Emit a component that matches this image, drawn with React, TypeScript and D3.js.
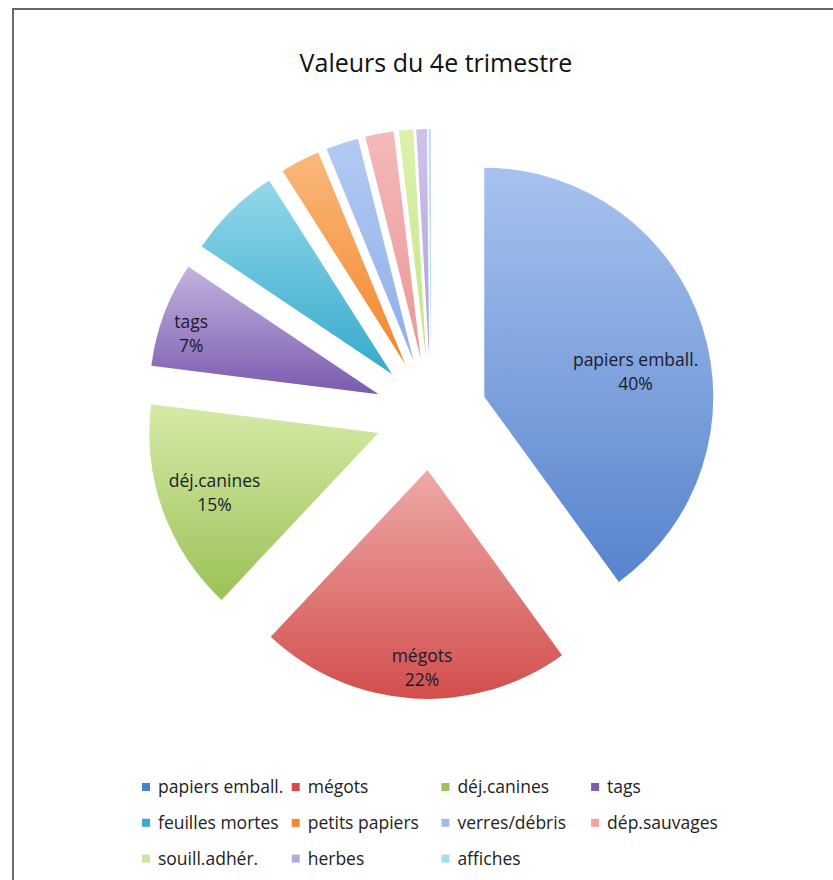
import React from "react";
import * as d3 from "d3";

const title = "Valeurs du 4e trimestre";
const categories = [
  "papiers emball.",
  "mégots",
  "déj.canines",
  "tags",
  "feuilles mortes",
  "petits papiers",
  "verres/débris",
  "dép.sauvages",
  "souill.adhér.",
  "herbes",
  "affiches",
];
const values = [40, 22, 15, 7.4, 6.6, 2.8, 2.3, 2.0, 1.0, 0.75, 0.15];
const labelled = [true, true, true, true, false, false, false, false, false, false, false];

// styles
const topColors = ["#a7c2ef", "#eeaaa8", "#d6eaa8", "#c3b2de", "#93d8ea", "#fab87c", "#b3caf2", "#f5b8b8", "#dcf1ac", "#cfc3ec", "#b2e4f1"];
const bottomColors = ["#5784cd", "#d24e4c", "#9bc257", "#7a5aae", "#35aacb", "#f1872b", "#8eaeea", "#ea9797", "#c3e487", "#ae9edd", "#8fd6ea"];
const legendColors = ["#4c7fd0", "#d84a4b", "#9dc152", "#7c5dac", "#3ca9cc", "#f38a2f", "#a3b9ec", "#eea2a4", "#c9e7a1", "#b8a8dc", "#a5dcee"];
// label placement (fraction of radius from slice apex, extra angle in degrees)
const labelFrac = [0.67, 0.86, 0.76, 0.86, 0.7, 0.7, 0.7, 0.7, 0.7, 0.7, 0.7];
const labelAngleShift = [8.5, -2, 0, -2.5, 0, 0, 0, 0, 0, 0, 0];

const W = 833;
const H = 880;
const cx = 431;
const cy = 414;
const R = 229;
const explode = 56;
const FONT = "'Open Sans', Lato, sans-serif";
const FS = 17.5;

export default function App() {
  const data = categories.map((c, i) => ({ c, v: values[i], i }));
  const pie = d3
    .pie<any>()
    .sort(null)
    .value((d: any) => d.v)
    .startAngle(0)
    .endAngle(2 * Math.PI);
  const arcs = pie(data);
  const arc = d3.arc<any>().innerRadius(0).outerRadius(R);
  const pct = d3.format(".0%");
  const total = d3.sum(values);

  const legendX = (col: number) => 142 + col * 149.7;
  const legendY = (row: number) => 787 + row * 35.8;

  return (
    <svg
      width={W}
      height={H}
      style={{ position: "absolute", left: 0, top: 0, background: "#fff" }}
      fontFamily={FONT}
    >
      <defs>
        {categories.map((c, i) => (
          <linearGradient key={i} id={`g${i}`} x1="0" y1="0" x2="0" y2="1">
            <stop offset="0%" stopColor={topColors[i]} />
            <stop offset="100%" stopColor={bottomColors[i]} />
          </linearGradient>
        ))}
      </defs>
      <rect x={0} y={0} width={W} height={H} fill="#fff" />
      <rect x={13} y={9} width={W} height={H} fill="#fff" stroke="#6a6a6a" strokeWidth={2} />
      <text x={436} y={72} textAnchor="middle" fontSize={25} fill="#111">
        {title}
      </text>
      <g>
        {arcs.map((a, i) => {
          const mid = (a.startAngle + a.endAngle) / 2;
          const ox = cx + explode * Math.sin(mid);
          const oy = cy - explode * Math.cos(mid);
          return (
            <path
              key={i}
              d={arc(a) as string}
              transform={`translate(${ox},${oy})`}
              fill={`url(#g${i})`}
            />
          );
        })}
      </g>
      <g>
        {arcs.map((a, i) => {
          if (!labelled[i]) return null;
          const mid = (a.startAngle + a.endAngle) / 2;
          const ox = cx + explode * Math.sin(mid);
          const oy = cy - explode * Math.cos(mid);
          const la = mid + (labelAngleShift[i] * Math.PI) / 180;
          const r = labelFrac[i] * R;
          const lx = ox + r * Math.sin(la);
          const ly = oy - r * Math.cos(la);
          return (
            <text key={i} x={lx} y={ly} textAnchor="middle" fontSize={FS} fill="#1b1b2b">
              <tspan x={lx} dy={-5}>{categories[i]}</tspan>
              <tspan x={lx} dy={24}>{pct(values[i] / total)}</tspan>
            </text>
          );
        })}
      </g>
      <g>
        {categories.map((c, i) => {
          const col = i % 4;
          const row = Math.floor(i / 4);
          const x = legendX(col);
          const y = legendY(row);
          return (
            <g key={i}>
              <rect x={x} y={y - 4} width={8} height={8} fill={legendColors[i]} />
              <text x={x + 16} y={y + 6} fontSize={FS} fill="#222">
                {c}
              </text>
            </g>
          );
        })}
      </g>
    </svg>
  );
}
